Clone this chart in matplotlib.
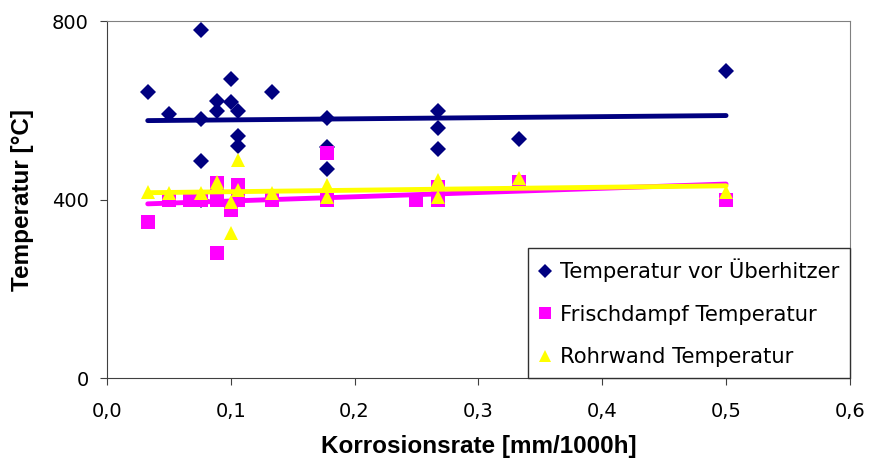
import numpy as np
import matplotlib.pyplot as plt

plt.rcParams['font.family'] = ['DejaVu Sans']

# Korrosionsrate [mm/1000h] und Temperaturen [°C]
x_vor = [0.033, 0.05, 0.076, 0.076, 0.076, 0.076, 0.089, 0.089, 0.1, 0.1, 0.106, 0.106, 0.106,
         0.133, 0.178, 0.178, 0.178, 0.267, 0.267, 0.267, 0.333, 0.5]
t_vor = [641, 592, 780, 581, 486, 400, 621, 599, 670, 619, 599, 543, 520,
         641, 583, 518, 469, 599, 560, 513, 536, 688]

x_frisch = [0.033, 0.05, 0.067, 0.076, 0.089, 0.089, 0.089, 0.1, 0.106, 0.106,
            0.133, 0.178, 0.178, 0.25, 0.267, 0.267, 0.333, 0.5]
t_frisch = [350, 400, 400, 400, 437, 400, 280, 377, 432, 400,
            400, 504, 400, 400, 400, 428, 439, 400]

x_rohr = [0.033, 0.05, 0.076, 0.089, 0.089, 0.1, 0.1, 0.106, 0.106,
          0.133, 0.178, 0.178, 0.267, 0.267, 0.333, 0.5]
t_rohr = [417, 415, 415, 440, 430, 395, 325, 489, 421,
          415, 433, 406, 444, 405, 448, 417]

series = [
    ("Temperatur vor Überhitzer", x_vor, t_vor, "D", "#000080", 8),
    ("Frischdampf Temperatur", x_frisch, t_frisch, "s", "#FF00FF", 10),
    ("Rohrwand Temperatur", x_rohr, t_rohr, "^", "#FFFF00", 10.5),
]

fig = plt.figure(figsize=(8.69, 4.69), dpi=100)
ax = fig.add_axes([0.123, 0.194, 0.855, 0.761])

for i, (name, xs, ts, m, c, ms) in enumerate(series):
    ax.plot(xs, ts, linestyle="none", marker=m, color=c, markersize=ms,
            markeredgewidth=0, zorder=3 + 2 * i)
    # lineare Trendlinie ueber den Datenbereich
    k, d = np.polyfit(xs, ts, 1)
    xl = np.array([min(xs), max(xs)])
    ax.plot(xl, k * xl + d, color=c, linewidth=3.5, solid_capstyle="round",
            zorder=4 + 2 * i)

xt = np.arange(0, 0.61, 0.1)
ax.set_xlim(0, 0.6)
ax.set_ylim(0, 800)
ax.set_xticks(xt)
ax.set_xticklabels([f"{v:.1f}".replace(".", ",") for v in xt])
ax.set_yticks([0, 400, 800])
ax.tick_params(labelsize=14, direction="out", length=5, color="#404040")
ax.tick_params(axis="x", pad=12)
ax.tick_params(axis="y", pad=8)
for s in ("top", "right"):
    ax.spines[s].set_color("#808080")
for s in ("left", "bottom"):
    ax.spines[s].set_color("#404040")

ax.set_xlabel("Korrosionsrate [mm/1000h]", fontsize=17.5, fontweight="bold",
              family="Liberation Sans", labelpad=10)
ax.set_ylabel("Temperatur [°C]", fontsize=17.5, fontweight="bold",
              family="Liberation Sans")
ax.yaxis.set_label_coords(-0.098, 0.5)

markers = [plt.Line2D([], [], linestyle="none", marker=s[3], color=s[4],
                      markersize=7 if s[3] == "D" else 8, markeredgewidth=0)
           for s in series]
leg = ax.legend(handles=markers, labels=[s[0] for s in series],
                loc="lower right", bbox_to_anchor=(1.0, 0.0), fontsize=15.2,
                frameon=True, fancybox=False, edgecolor="#303030", framealpha=1,
                handlelength=0.6, handletextpad=0.4, labelspacing=1.07,
                borderpad=0.5, borderaxespad=0)
leg.get_frame().set_linewidth(1)

fig.savefig("out.png", dpi=100)
